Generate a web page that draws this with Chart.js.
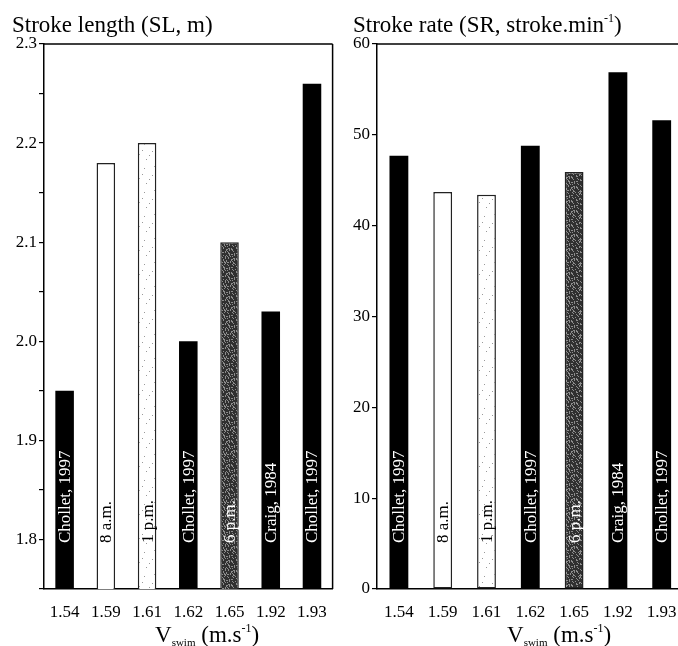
<!DOCTYPE html>
<html>
<head>
<meta charset="utf-8">
<script src="https://cdn.jsdelivr.net/npm/chart.js@4/dist/chart.umd.min.js"></script>
<style>
  html, body { margin:0; padding:0; background:#fff; }
  body { width:678px; height:646px; overflow:hidden; position:relative; font-family:"Liberation Serif","Times New Roman",serif; color:#000; }
  canvas { position:absolute; top:0; }
  .t { position:absolute; white-space:nowrap; font-size:23px; line-height:23px; }
  .t sup { font-size:12px; vertical-align:0; position:relative; top:-10px; }
  .t sub { font-size:11px; vertical-align:0; position:relative; top:4px; }
</style>
</head>
<body>
<canvas id="c1" width="340" height="646" style="left:0;width:340px;height:646px"></canvas>
<canvas id="c2" width="350" height="646" style="left:340px;width:350px;height:646px"></canvas>
<div class="t" style="left:12px;top:13px">Stroke length (SL, m)</div>
<div class="t" style="left:353px;top:13px">Stroke rate (SR, stroke.min<sup>-1</sup>)</div>
<div class="t" style="left:155px;top:623px">V<sub>swim</sub> (m.s<sup>-1</sup>)</div>
<div class="t" style="left:507px;top:623px">V<sub>swim</sub> (m.s<sup>-1</sup>)</div>
<script>
// ---- data ----
const categories   = ['1.54', '1.59', '1.61', '1.62', '1.65', '1.92', '1.93'];
const strokeLength = [1.95, 2.18, 2.20, 2.00, 2.10, 2.03, 2.26];
const strokeRate   = [47.7, 43.7, 43.4, 48.8, 45.9, 56.9, 51.6];
const barLabels    = ['Chollet, 1997', '8 a.m.', '1 p.m.', 'Chollet, 1997', '6 p.m.', 'Craig, 1984', 'Chollet, 1997'];
const barGroups    = ['lit', '8am', '1pm', 'lit', '6pm', 'lit', 'lit'];

// ---- styles ----
function makePattern(base, dot, test) {
  const c = document.createElement('canvas');
  c.width = 24; c.height = 24;
  const g = c.getContext('2d');
  g.fillStyle = base; g.fillRect(0, 0, 24, 24);
  g.fillStyle = dot;
  for (let y = 0; y < 24; y++) for (let x = 0; x < 24; x++) {
    if (test(x, y)) g.fillRect(x, y, 1, 1);
  }
  return g.createPattern(c, 'repeat');
}
const darkStipple  = makePattern('#303030', '#8c8c8c', (x, y) => ((x * 7 + y * 13 + (x * y) % 5) % 11) < 3);
const lightStipple = makePattern('#ffffff', '#9a9a9a', (x, y) => ((x * 5 + y * 17) % 53) === 0);

function fillFor(g) {
  if (g === 'lit') return '#000000';
  if (g === '8am') return '#ffffff';
  if (g === '1pm') return lightStipple;
  return darkStipple;
}
function textFor(g) { return (g === '8am' || g === '1pm') ? '#000000' : '#ffffff'; }

const FONT = "'Liberation Serif', 'Times New Roman', serif";

const barLabelPlugin = {
  id: 'barLabel',
  afterDatasetsDraw(chart) {
    const ctx = chart.ctx;
    const meta = chart.getDatasetMeta(0);
    const bottom = chart.chartArea.bottom;
    ctx.save();
    ctx.font = '17px ' + FONT;
    ctx.textAlign = 'left';
    ctx.textBaseline = 'middle';
    meta.data.forEach((el, i) => {
      ctx.save();
      ctx.translate(el.x, bottom - 46);
      ctx.rotate(-Math.PI / 2);
      ctx.fillStyle = textFor(barGroups[i]);
      ctx.fillText(barLabels[i], 0, 1);
      ctx.restore();
    });
    ctx.restore();
  }
};

const framePlugin = {
  id: 'frame',
  afterDraw(chart, args, opts) {
    const a = chart.chartArea, ctx = chart.ctx;
    ctx.save();
    ctx.strokeStyle = '#000';
    ctx.lineWidth = 1.5;
    ctx.beginPath();
    ctx.moveTo(a.left, a.top);
    ctx.lineTo(opts.topToEdge ? chart.width : a.right, a.top);
    if (opts.right) { ctx.moveTo(a.right, a.top); ctx.lineTo(a.right, a.bottom); }
    ctx.stroke();
    ctx.restore();
  }
};

function makeChart(id, values, yOpts, axisWidth, padRight, barPct, frameOpts) {
  return new Chart(document.getElementById(id), {
    type: 'bar',
    data: {
      labels: categories,
      datasets: [{
        data: values,
        backgroundColor: barGroups.map(fillFor),
        borderColor: barGroups.map(g => g === 'lit' ? '#000' : '#222'),
        borderWidth: barGroups.map(g => g === 'lit' ? 0 : 1.5),
        borderSkipped: false,
        barPercentage: barPct,
        categoryPercentage: 1
      }]
    },
    options: {
      responsive: false,
      animation: false,
      devicePixelRatio: 1,
      layout: { padding: { top: 44, right: padRight, left: 0, bottom: 0 } },
      plugins: { legend: { display: false }, tooltip: { enabled: false }, title: { display: false }, frame: frameOpts },
      scales: {
        x: {
          grid: { display: false, drawTicks: false },
          border: { display: true, color: '#000', width: 1.5 },
          ticks: { color: '#000', font: { family: FONT, size: 17 }, padding: 13, maxRotation: 0 },
          afterFit(s) { s.height = 57; }
        },
        y: Object.assign({
          grid: { display: true, drawOnChartArea: false, drawTicks: true, tickLength: 5, color: '#000', lineWidth: 1.2 },
          border: { display: true, color: '#000', width: 1.5 },
          afterFit(s) { s.width = axisWidth; }
        }, yOpts)
      }
    },
    plugins: [barLabelPlugin, framePlugin]
  });
}

makeChart('c1', strokeLength, {
  min: 1.75, max: 2.3,
  ticks: {
    stepSize: 0.05, color: '#000', padding: 2, font: { family: FONT, size: 17 },
    callback(v) { const k = Math.round(v * 100); return k % 10 === 0 ? (k / 100).toFixed(1) : ''; }
  }
}, 44, 2, 0.45, { right: true, topToEdge: false });

makeChart('c2', strokeRate, {
  min: 0, max: 60,
  ticks: { stepSize: 10, color: '#000', padding: 2, font: { family: FONT, size: 17 } }
}, 37, 6, 0.43, { right: false, topToEdge: true });
</script>
</body>
</html>
